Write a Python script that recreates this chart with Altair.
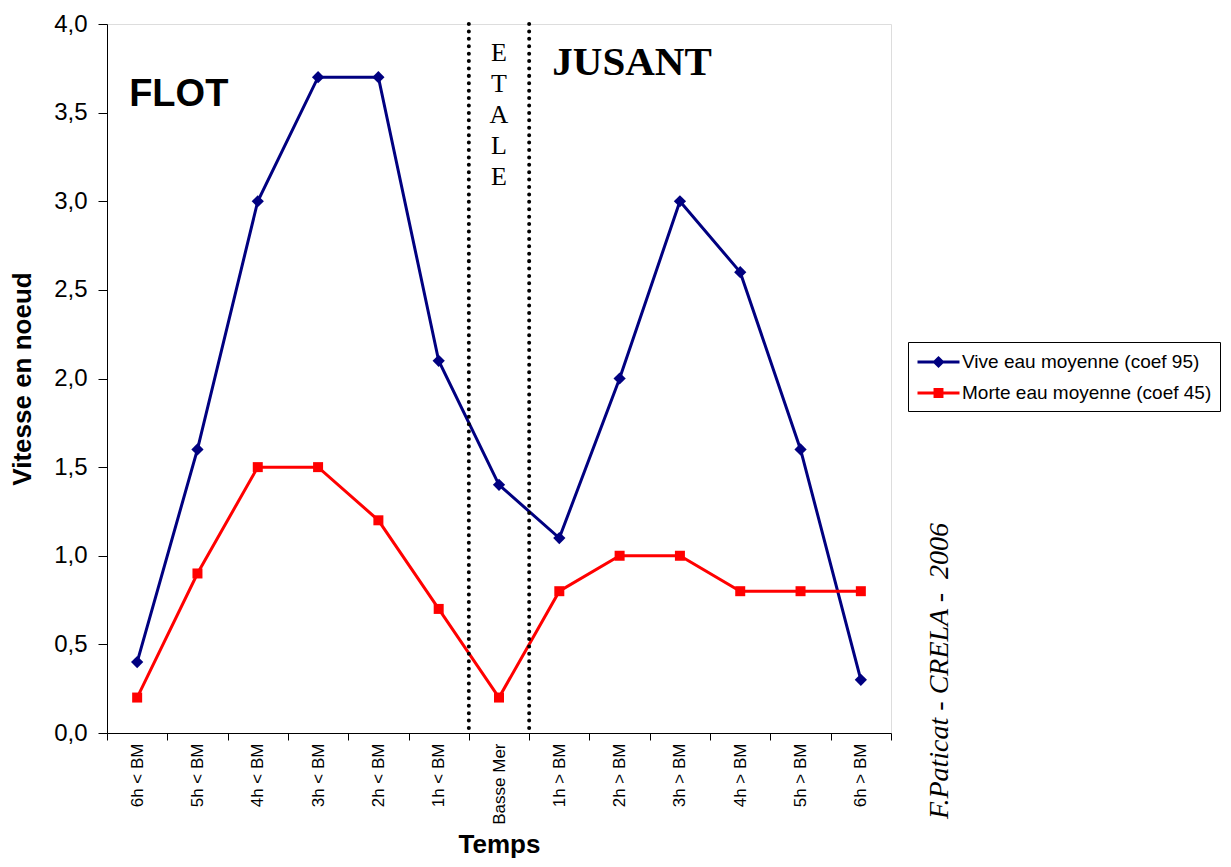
import altair as alt
import pandas as pd

# ---------------- data ----------------
categories = ["6h < BM", "5h < BM", "4h < BM", "3h < BM", "2h < BM", "1h < BM",
              "Basse Mer", "1h > BM", "2h > BM", "3h > BM", "4h > BM", "5h > BM", "6h > BM"]
vive = [0.4, 1.6, 3.0, 3.7, 3.7, 2.1, 1.4, 1.1, 2.0, 3.0, 2.6, 1.6, 0.3]
morte = [0.2, 0.9, 1.5, 1.5, 1.2, 0.7, 0.2, 0.8, 1.0, 1.0, 0.8, 0.8, 0.8]
series_names = ["Vive eau moyenne (coef 95)", "Morte eau moyenne (coef 45)"]
series_colors = ["#000080", "#FF0000"]
y_ticks = [0.0, 0.5, 1.0, 1.5, 2.0, 2.5, 3.0, 3.5, 4.0]
etale_category = "Basse Mer"
flot_label = ["FLOT"]
jusant_label = ["JUSANT"]
etale_label = ["E\nT\nA\nL\nE"]
credit = ["F.Paticat - CRELA -\u00a0 2006"]

df = pd.DataFrame({
    "Temps": categories * 2,
    "Vitesse": vive + morte,
    "Serie": [series_names[0]] * len(categories) + [series_names[1]] * len(categories),
    "ordre": list(range(len(categories))) * 2,
})
df_etale = pd.DataFrame({"Temps": [etale_category]})
df_flot = pd.DataFrame({"Temps": [categories[0]], "Vitesse": [3.54], "txt": flot_label})
df_jusant = pd.DataFrame({"Temps": [categories[7]], "Vitesse": [3.71], "txt": jusant_label})
df_etale_txt = pd.DataFrame({"Temps": [etale_category], "Vitesse": [3.79], "txt": etale_label})
df_credit = pd.DataFrame({"txt": credit})

SANS = "Liberation Sans"
SERIF = "Liberation Serif"

x_scale = alt.Scale(type="band", domain=categories, paddingInner=0, paddingOuter=0)
y_scale = alt.Scale(domain=[0, 4], nice=False, zero=True)

x_axis = alt.Axis(
    title="Temps", titleFont=SANS, titleFontSize=26, titleFontWeight="bold", titleColor="black",
    titlePadding=7,
    labelAngle=270, labelAlign="right", labelBaseline="middle", labelFont=SANS,
    labelFontSize=17, labelColor="black", labelPadding=3,
    tickBand="extent", tickSize=7, tickColor="black", domainColor="black", grid=False,
)
y_axis = alt.Axis(
    title="Vitesse en noeud", titleFont=SANS, titleFontSize=26, titleFontWeight="bold",
    titleColor="black", titlePadding=18,
    values=y_ticks, labelExpr="replace(format(datum.value, '.1f'), '.', ',')",
    labelFont=SANS, labelFontSize=24, labelColor="black", labelPadding=11,
    tickSize=9, tickColor="black", domainColor="black", grid=False,
)

x_enc = alt.X("Temps:N", scale=x_scale, axis=x_axis, sort=categories)
y_enc = alt.Y("Vitesse:Q", scale=y_scale, axis=y_axis)

layers = []
markers = [("diamond", 150), ("square", 100)]
for name, col, (shp, sz) in zip(series_names, series_colors, markers):
    base = alt.Chart(df).transform_filter(alt.datum.Serie == name)
    layers.append(base.mark_line(color=col, strokeWidth=3).encode(
        x=x_enc, y=y_enc, order=alt.Order("ordre:Q")))
    layers.append(base.mark_point(filled=True, shape=shp, size=sz, color=col, opacity=1).encode(
        x=x_enc, y=y_enc))

# invisible layer that carries the legend (line + marker symbols)
legend_paths = [
    "M-1,0L3,0M1,-0.38L1.38,0L1,0.38L0.62,0Z",
    "M-1,0L3,0M0.67,-0.33L1.33,-0.33L1.33,0.33L0.67,0.33Z",
]
leg = alt.Legend(
    title=None, orient="none", legendX=801, legendY=318,
    strokeColor="black", fillColor="white", padding=8, rowPadding=9,
    labelFont=SANS, labelFontSize=19, labelColor="black", labelLimit=500,
    labelOffset=22, symbolSize=441, symbolStrokeWidth=3, symbolOpacity=1,
)
layers.append(alt.Chart(df).mark_point(filled=True, opacity=0, strokeWidth=3, size=441).encode(
    x=x_enc, y=y_enc,
    color=alt.Color("Serie:N", scale=alt.Scale(domain=series_names, range=series_colors), legend=leg),
    stroke=alt.Stroke("Serie:N", scale=alt.Scale(domain=series_names, range=series_colors), legend=leg),
    shape=alt.Shape("Serie:N", scale=alt.Scale(domain=series_names, range=legend_paths), legend=leg),
))

# dotted separators around "Basse Mer" (slack water)
for bp in (0, 1):
    layers.append(alt.Chart(df_etale).mark_rule(
        color="black", strokeWidth=4, strokeDash=[0.01, 7.4], strokeCap="round").encode(
        x=alt.X("Temps:N", scale=x_scale, axis=x_axis, sort=categories, bandPosition=bp)))

layers.append(alt.Chart(df_flot).mark_text(
    align="left", baseline="alphabetic", font=SANS, fontSize=38, fontWeight="bold",
    color="black", dx=-8).encode(x=x_enc, y=y_enc, text="txt:N"))
layers.append(alt.Chart(df_jusant).mark_text(
    align="left", baseline="alphabetic", font=SERIF, fontSize=41, fontWeight="bold",
    color="black", dx=-7).encode(x=x_enc, y=y_enc, text="txt:N"))
layers.append(alt.Chart(df_etale_txt).mark_text(
    align="center", baseline="alphabetic", font=SERIF, fontSize=26, lineBreak="\n",
    lineHeight=31, color="black").encode(x=x_enc, y=y_enc, text="txt:N"))
layers.append(alt.Chart(df_credit).mark_text(
    align="center", baseline="middle", font=SERIF, fontSize=28, fontStyle="italic",
    angle=270, color="black").encode(x=alt.value(833), y=alt.value(647), text="txt:N"))

chart = alt.layer(*layers).properties(
    width=784, height=709,
    autosize=alt.AutoSizeParams(type="none"),
    padding={"left": 99, "top": 16, "right": 332, "bottom": 126},
).configure_view(stroke="#888888", strokeWidth=1).configure(background="white")

chart.save("out.html", embed_options={"renderer": "svg", "actions": False})
